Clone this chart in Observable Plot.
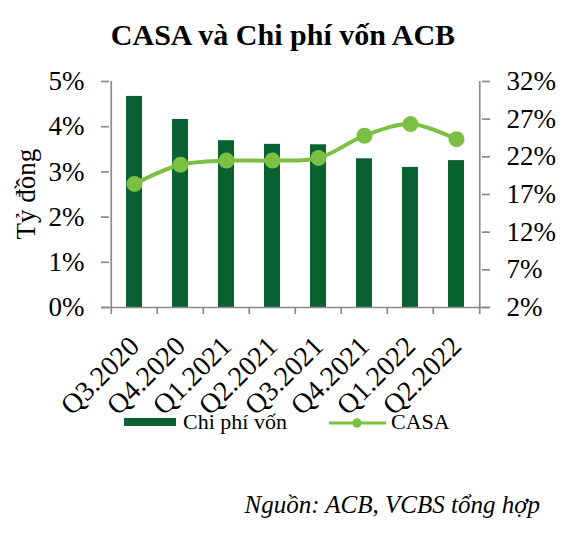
<!DOCTYPE html>
<html>
<head>
<meta charset="utf-8">
<script src="https://cdn.jsdelivr.net/npm/d3@7"></script>
<script src="https://cdn.jsdelivr.net/npm/@observablehq/plot@0.6"></script>
<style>
  body { margin: 0; background: #fff; font-family: "Liberation Serif", serif; }
  #wrap { position: relative; width: 588px; height: 547px; }
  #title { position: absolute; left: 0; top: 18px; width: 566px; text-align: center;
           font-weight: bold; font-size: 30px; line-height: 34px; }
  #chart { position: absolute; left: 0; top: 62px; }
  #ylabel { position: absolute; left: 26px; top: 194px; font-size: 27px; line-height: 27px; white-space: nowrap;
            transform: translate(-50%, -50%) rotate(-90deg); }
  .leg { position: absolute; font-size: 22px; line-height: 22px; }
  #source { position: absolute; right: 48px; top: 492px; font-style: italic; font-size: 25px; line-height: 25px; }
</style>
</head>
<body>
<div id="wrap">
  <div id="title">CASA và Chi phí vốn ACB</div>
  <div id="chart"></div>
  <div id="ylabel">Tỷ đồng</div>
  <svg class="leg" style="left:124px;top:418px" width="52" height="8"><rect width="52" height="8" fill="#0a6132"></rect></svg>
  <div class="leg" style="left:183px;top:411px">Chi phí vốn</div>
  <svg class="leg" style="left:329px;top:417px" width="57" height="12"><line x1="0" x2="57" y1="6" y2="6" stroke="#7ac143" stroke-width="3"></line><circle cx="28" cy="6" r="4.7" fill="#7ac143"></circle></svg>
  <div class="leg" style="left:391px;top:411px">CASA</div>
  <div id="source">Nguồn: ACB, VCBS tổng hợp</div>
</div>
<script>
const quarters = ["Q3.2020", "Q4.2020", "Q1.2021", "Q2.2021", "Q3.2021", "Q4.2021", "Q1.2022", "Q2.2022"]
const chiPhiVon = [4.67, 4.16, 3.69, 3.61, 3.60, 3.29, 3.10, 3.25]   // % (trục trái)
const casa = [18.4, 20.95, 21.5, 21.5, 21.85, 24.8, 26.35, 24.35]   // % (trục phải)
const leftTicks = [0, 1, 2, 3, 4, 5]
const rightTicks = [2, 7, 12, 17, 22, 27, 32]

// trục phải 2%..32% ánh xạ vào trục trái 0..5
const toLeft = v => (v - 2) / 6

const data = quarters.map((q, i) => ({q, cpv: chiPhiVon[i], casa: casa[i]}))

const width = 588, marginLeft = 109, marginRight = 107
const step = (width - marginLeft - marginRight) / quarters.length
const gray = "#8a8a8a"

let chart = Plot.plot({
  width: width,
  height: 375,
  marginTop: 19,
  marginBottom: 130,
  marginLeft: marginLeft,
  marginRight: marginRight,
  x: {domain: quarters, paddingInner: 0.65, paddingOuter: 0.325},
  y: {domain: [0, 5]},
  style: {fontFamily: "Liberation Serif", color: "black", background: "transparent", overflow: "visible"},
  marks: [
    Plot.barY(data, {x: 'q', y: 'cpv', fill: '#0a6132'}),
    // duong truc
    Plot.ruleY([0], {stroke: gray, strokeWidth: 1.7, insetLeft: -8, insetRight: -8}),
    Plot.ruleX([quarters[0]], {y1: 0, y2: 5, dx: -step / 2, stroke: gray, strokeWidth: 1.7}),
    Plot.ruleX([quarters[quarters.length - 1]], {y1: 0, y2: 5, dx: step / 2, stroke: gray, strokeWidth: 1.7}),
    Plot.ruleX(quarters, {y1: 0, y2: 0, insetBottom: -7, dx: -step / 2, stroke: gray, strokeWidth: 1.7}),
    Plot.ruleX([quarters[quarters.length - 1]], {y1: 0, y2: 0, insetBottom: -7, dx: step / 2, stroke: gray, strokeWidth: 1.7}),
    Plot.axisY(leftTicks, {
      tickSize: 8, tickPadding: 17, stroke: gray, strokeWidth: 1.7, fontSize: 27,
      tickFormat: d => d + '%', label: null
    }),
    Plot.axisY(rightTicks.map(toLeft), {
      anchor: 'right', tickSize: 8, tickPadding: 17, stroke: gray, strokeWidth: 1.7, fontSize: 27,
      tickFormat: d => Math.round(d * 6 + 2) + '%', label: null
    }),
    Plot.axisX({tickRotate: -45, tickSize: 0, tickPadding: 34, fontSize: 28, label: null}),
    Plot.line(data, {x: 'q', y: d => toLeft(d.casa), stroke: '#7ac143', strokeWidth: 4, curve: 'catmull-rom'}),
    Plot.dot(data, {x: 'q', y: d => toLeft(d.casa), r: 8, fill: '#7ac143'}),
  ]
})

d3.select('#chart').append(() => chart)
</script>
</body>
</html>
